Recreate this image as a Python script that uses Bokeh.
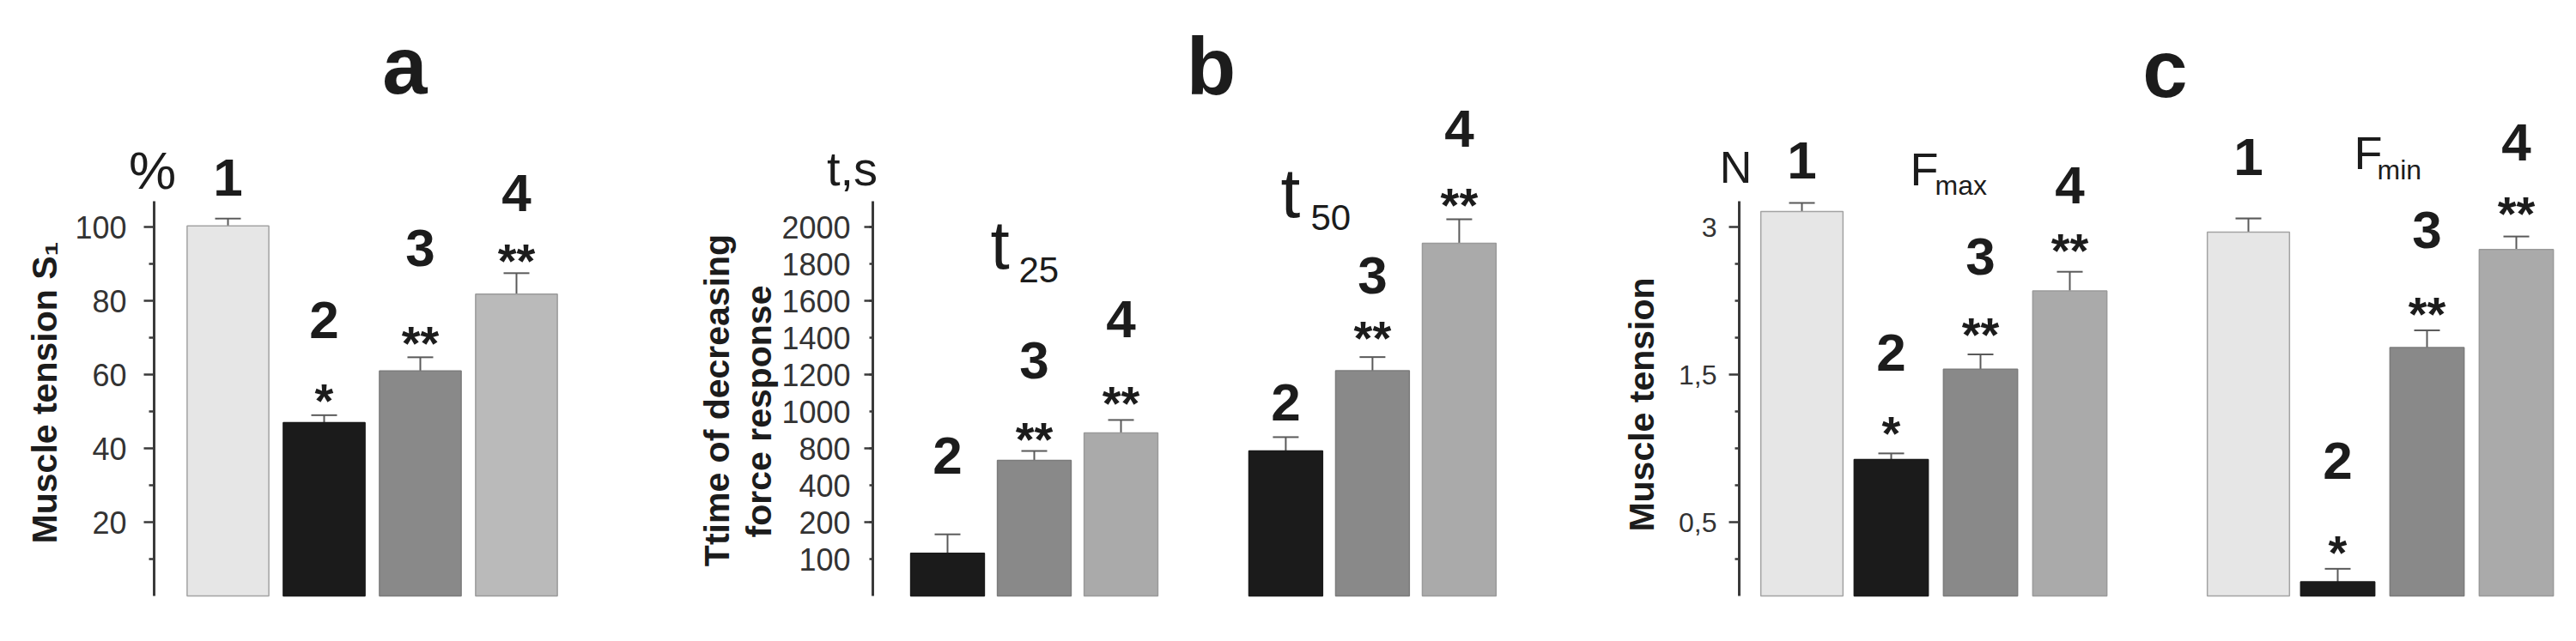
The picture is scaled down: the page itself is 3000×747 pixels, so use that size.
import math
from bokeh.plotting import figure
from bokeh.layouts import row
from bokeh.models import (ColumnDataSource, Range1d, FixedTicker, Whisker, TeeHead,
                          LabelSet, LinearAxis)
from bokeh.core.properties import value
from bokeh.embed import file_html
from bokeh.resources import INLINE

FONT = "Liberation Sans"

# ---------------- data ----------------
# a: muscle tension S1, %
a_groups = ["1", "2", "3", "4"]
a_mean = [100.3, 47.0, 61.0, 81.8]
a_sem = [2.0, 2.0, 3.7, 5.7]
a_sig = ["", "*", "**", "**"]
a_ticks = [20, 40, 60, 80, 100]
a_tick_labels = ["20", "40", "60", "80", "100"]
a_minor_ticks = [10, 30, 50, 70, 90]

# b: time of decreasing force response, s  (t25 and t50)
b_groups = ["2", "3", "4"]
b_t25_mean = [231, 735, 884]
b_t25_sem = [103, 51, 70]
b_t25_sig = ["", "**", "**"]
b_t50_mean = [786, 1221, 1912]
b_t50_sem = [75, 74, 130]
b_t50_sig = ["", "**", "**"]
b_ticks = [200, 400, 600, 800, 1000, 1200, 1400, 1600, 1800, 2000]
b_tick_labels = ["100", "200", "400", "800", "1000", "1200", "1400", "1600", "1800", "2000"]
b_long_ticks = [400, 800, 1200, 1600, 2000]

# c: muscle tension, N  (Fmax and Fmin)
c_groups = ["1", "2", "3", "4"]
c_fmax_mean = [2.605, 0.925, 1.537, 2.068]
c_fmax_sem = [0.058, 0.041, 0.100, 0.129]
c_fmax_sig = ["", "*", "**", "**"]
c_fmin_mean = [2.465, 0.096, 1.683, 2.348]
c_fmin_sem = [0.093, 0.088, 0.117, 0.088]
c_fmin_sig = ["", "*", "**", "**"]
c_ticks = [0.5, 1.5, 2.5]
c_tick_labels = ["0,5", "1,5", "3"]
c_minor_ticks = [0.25, 0.75, 1.0, 1.25, 1.75, 2.0, 2.25]

# ---------------- style / layout ----------------
FILL = {"1": "#e6e6e6", "2": "#1b1b1b", "3": "#898989", "4": "#aaaaaa"}
LINE = {"1": "#a3a3a3", "2": "#1b1b1b", "3": "#7c7c7c", "4": "#9a9a9a"}
FILL_A4 = "#bababa"
ERR = "#5a5a5a"
TXT = "#1c1c1c"
AX = "#3a3a3a"

H = 731
AXIS_BOTTOM = 694      # page y of value 0
AXIS_TOP = 234         # page y of the top of the axis line

NUM_F = 62
NUM_C = 0.35
STAR_F = 56
STAR_C = 0.57


class Panel:
    def __init__(self, page_left, width, axis_px, unit_px, first_px, ymax):
        self.axis_px = axis_px
        self.unit = unit_px
        self.first_px = first_px
        self.ymax = ymax
        self.k = (AXIS_BOTTOM - AXIS_TOP) / ymax
        x0 = self.X(page_left)
        x1 = self.X(page_left + width)
        y0 = self.Y(H)
        y1 = self.Y(0)
        self.p = figure(width=width, height=H,
                        x_range=Range1d(x0, x1), y_range=Range1d(y0, y1),
                        output_backend="svg", toolbar_location=None,
                        x_axis_location=None, y_axis_location=None,
                        min_border_left=0, min_border_right=0,
                        min_border_top=0, min_border_bottom=0,
                        outline_line_color=None, background_fill_color="white",
                        border_fill_color="white")
        self.p.grid.visible = False

    def X(self, px):
        return 1 + (px - self.first_px) / self.unit

    def Y(self, py):
        return (AXIS_BOTTOM - py) / self.k

    def dY(self, dpx):
        return dpx / self.k

    def axis(self, ticks, labels, minor, tick_out, minor_out, standoff, font_px):
        ax = LinearAxis(fixed_location=self.X(self.axis_px), bounds=(0, self.ymax))
        ax.ticker = FixedTicker(ticks=ticks, minor_ticks=minor)
        ax.major_label_overrides = {t: l for t, l in zip(ticks, labels)}
        ax.axis_line_color = AX
        ax.axis_line_width = 3
        ax.major_tick_line_color = AX
        ax.major_tick_line_width = 2.5
        ax.major_tick_in = 0
        ax.major_tick_out = tick_out
        ax.minor_tick_line_color = AX
        ax.minor_tick_line_width = 2.5
        ax.minor_tick_in = 0
        ax.minor_tick_out = minor_out
        ax.major_label_text_font = FONT
        ax.major_label_text_font_size = f"{font_px}px"
        ax.major_label_text_color = "#333333"
        ax.major_label_standoff = standoff
        self.p.add_layout(ax, "left")

    def bars(self, xs, means, sems, names, sig, widths, num_gaps, star_gaps, fills=None):
        tops = [m + s for m, s in zip(means, sems)]
        num_y = [t + self.dY(g - NUM_C * NUM_F) for t, g in zip(tops, num_gaps)]
        star_y = [t + self.dY(g - STAR_C * STAR_F) for t, g in zip(tops, star_gaps)]
        src = ColumnDataSource(dict(
            x=xs, top=means, upper=tops, w=widths,
            fill=fills if fills else [FILL[n] for n in names],
            line=[LINE[n] for n in names],
            num=names, num_y=num_y, sig=sig, star_y=star_y))
        self.p.vbar(x="x", top="top", bottom=0, width="w", fill_color="fill",
                    line_color="line", line_width=1.5, source=src)
        self.p.add_layout(Whisker(source=src, base="x", lower="top", upper="upper",
                                  dimension="height", line_color=ERR, line_width=2,
                                  upper_head=TeeHead(size=30, line_color=ERR, line_width=2),
                                  lower_head=None))
        self.p.add_layout(LabelSet(source=src, x="x", y="num_y", text="num",
                                   text_font=value(FONT), text_font_size=f"{NUM_F}px",
                                   text_font_style="bold", text_color=TXT,
                                   text_align="center", text_baseline="alphabetic"))
        self.p.add_layout(LabelSet(source=src, x="x", y="star_y", text="sig",
                                   text_font=value(FONT), text_font_size=f"{STAR_F}px",
                                   text_font_style="bold", text_color=TXT,
                                   text_align="center", text_baseline="alphabetic"))

    def label(self, px, py, text, size, bold=False, align="center", angle=0.0):
        src = ColumnDataSource(dict(x=[self.X(px)], y=[self.Y(py)], t=[text]))
        self.p.add_layout(LabelSet(source=src, x="x", y="y", text="t",
                                   text_font=value(FONT), text_font_size=f"{size}px",
                                   text_font_style="bold" if bold else "normal",
                                   text_color=TXT, text_align=align,
                                   text_baseline="alphabetic", angle=angle))


# ---------------- panel a ----------------
A = Panel(page_left=0, width=790, axis_px=179, unit_px=112, first_px=265, ymax=107)
A.axis(a_ticks, a_tick_labels, a_minor_ticks, 12, 6, 20, 36)
a_x = [i + 1 for i in range(len(a_groups))]
a_fill = [FILL[g] for g in a_groups[:3]] + [FILL_A4]
A.bars(a_x, a_mean, a_sem, a_groups, a_sig, [0.85] * 4,
       [48, 112, 128, 94], [0, 30, 29, 27], fills=a_fill)
A.label(471, 108, "a", 94, bold=True)
A.label(177, 219, "%", 62)
A.label(65, 457, "Muscle tension S\u2081", 41, bold=True, angle=math.pi / 2)

# ---------------- panel b ----------------
B = Panel(page_left=790, width=1010, axis_px=1016, unit_px=101, first_px=1103, ymax=2140)
B.axis(b_ticks, b_tick_labels, [], 4, 0, 22, 36)
B_STEP = 3.9
b25_x = [i + 1 for i in range(len(b_groups))]
b50_x = [i + 1 + B_STEP for i in range(len(b_groups))]
B.bars(b25_x, b_t25_mean, b_t25_sem, b_groups, b_t25_sig, [0.85] * 3,
       [92, 106, 118], [0, 26, 32])
B.bars(b50_x, b_t50_mean, b_t50_sem, b_groups, b_t50_sig, [0.85] * 3,
       [41, 96, 106], [0, 35, 29])
long_src = ColumnDataSource(dict(y=b_long_ticks,
                                 lo=[B.X(1006)] * len(b_long_ticks),
                                 hi=[B.X(1016)] * len(b_long_ticks)))
B.p.add_layout(Whisker(source=long_src, base="y", lower="lo", upper="hi", dimension="width",
                       line_color=AX, line_width=2.5, lower_head=None, upper_head=None))
B.label(1410, 109, "b", 94, bold=True)
B.label(992, 215, "t,s", 56)
B.label(1153, 312, "t", 80, align="left")
B.label(1186, 328, "25", 42, align="left")
B.label(1491, 252, "t", 82, align="left")
B.label(1526, 267, "50", 42, align="left")
B.label(848, 466, "Ttime of decreasing", 41, bold=True, angle=math.pi / 2)
B.label(897, 479, "force response", 41, bold=True, angle=math.pi / 2)

# ---------------- panel c ----------------
C = Panel(page_left=1800, width=1184, axis_px=2025, unit_px=104, first_px=2098, ymax=2.675)
C.axis(c_ticks, c_tick_labels, c_minor_ticks, 12, 5, 14, 32)
C_STEP = 5
cmax_x = [i + 1 for i in range(len(c_groups))]
cmin_x = [i + 1 + C_STEP for i in range(len(c_groups))]
c_w = [0.92, 0.83, 0.83, 0.83]
C.bars(cmax_x, c_fmax_mean, c_fmax_sem, c_groups, c_fmax_sig, c_w,
       [50, 118, 115, 101], [0, 36, 36, 38])
C.bars(cmin_x, c_fmin_mean, c_fmin_sem, c_groups, c_fmin_sig, c_w,
       [72, 127, 118, 110], [0, 32, 32, 40])
C.label(2521, 112, "c", 94, bold=True)
C.label(2021, 212, "N", 52)
C.label(2224, 215, "F", 54, align="left")
C.label(2253, 226, "max", 32, align="left")
C.label(2741, 196, "F", 54, align="left")
C.label(2768, 208, "min", 32, align="left")
C.label(1925, 471, "Muscle tension", 41, bold=True, angle=math.pi / 2)

layout = row(A.p, B.p, C.p, spacing=0)
open("out.html", "w").write(file_html(layout, INLINE))
